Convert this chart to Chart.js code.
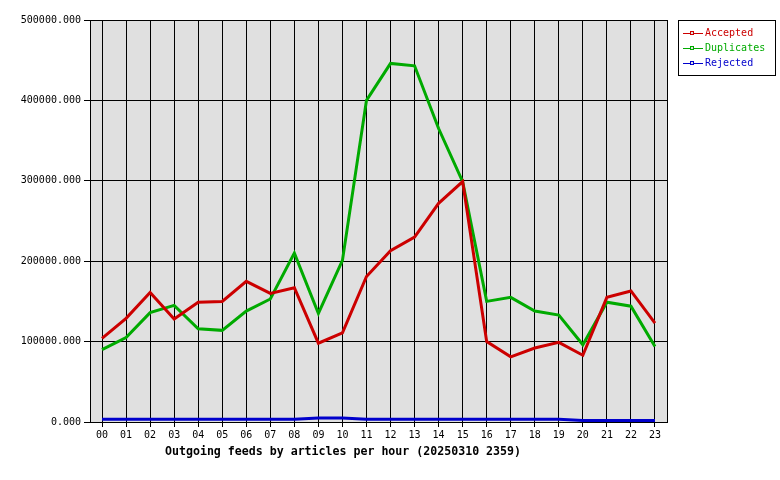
<!DOCTYPE html>
<html lang="en">
  <head>
    <meta charset="UTF-8" />
    <title>Outgoing feeds by articles per hour</title>
    <script src="https://cdn.jsdelivr.net/npm/chart.js"></script>
    <style>
      body { margin: 0; background: #fff; }
      #wrap { width: 780px; height: 480px; }
    </style>
  </head>
  <body>
    <div id="wrap"><canvas id="feeds" width="780" height="480"></canvas></div>

    <script>
      const hours = ["00","01","02","03","04","05","06","07","08","09","10","11",
                     "12","13","14","15","16","17","18","19","20","21","22","23"];

      // articles per hour
      const accepted = [104000, 129000, 161000, 128000, 149000, 150000, 175000, 160000,
                        167000, 98000, 111000, 181000, 213000, 230000, 272000, 299000,
                        100000, 81000, 92000, 99000, 83000, 155000, 163000, 123000];
      const duplicates = [90000, 105000, 136000, 145000, 116000, 114000, 138000, 153000,
                          210000, 135000, 201000, 400000, 446000, 443000, 365000, 299000,
                          150000, 155000, 138000, 133000, 96000, 149000, 144000, 94000];
      const rejected = [3500, 3500, 3500, 3500, 3500, 3500, 3500, 3500, 3500, 5000, 5000, 3500,
                        3500, 3500, 3500, 3500, 3500, 3500, 3500, 3500, 2000, 2000, 2000, 2000];

      const yTicks = [0, 100000, 200000, 300000, 400000, 500000];
      const title = "Outgoing feeds by articles per hour (20250310 2359)";

      const mono = "'DejaVu Sans Mono', 'Liberation Mono', monospace";

      const series = [
        { label: "Accepted", data: accepted, color: "#cc0000" },
        { label: "Duplicates", data: duplicates, color: "#00aa00" },
        { label: "Rejected", data: rejected, color: "#0000cc" },
      ];

      // grey plot area, black frame, legend box and bottom title
      const framePlugin = {
        id: "frame",
        beforeDraw(chart) {
          const { ctx, chartArea: a } = chart;
          ctx.save();
          ctx.fillStyle = "#ffffff";
          ctx.fillRect(0, 0, chart.width, chart.height);
          ctx.fillStyle = "#e0e0e0";
          ctx.fillRect(a.left, a.top, a.right - a.left, a.bottom - a.top);
          ctx.restore();
        },
        afterDraw(chart) {
          const { ctx, chartArea: a } = chart;
          ctx.save();
          ctx.strokeStyle = "#000";
          ctx.lineWidth = 1;
          ctx.strokeRect(Math.round(a.left) + 0.5, Math.round(a.top) + 0.5,
                         Math.round(a.right - a.left), Math.round(a.bottom - a.top));

          // legend
          ctx.strokeRect(678.5, 20.5, 97, 55);
          ctx.font = "10px " + mono;
          ctx.textBaseline = "middle";
          series.forEach((s, i) => {
            const y = 33 + i * 15 + 0.5;
            ctx.strokeStyle = s.color;
            ctx.beginPath();
            ctx.moveTo(683, y);
            ctx.lineTo(703, y);
            ctx.stroke();
            ctx.fillStyle = "#e0e0e0";
            ctx.fillRect(691, y - 2, 3, 3);
            ctx.strokeRect(690.5, y - 2, 3, 3);
            ctx.fillStyle = s.color;
            ctx.fillText(s.label, 705, y);
          });

          // title under the x axis
          ctx.fillStyle = "#000";
          ctx.font = "bold 11.6px " + mono;
          ctx.textAlign = "center";
          ctx.fillText(title, 343, 452);
          ctx.restore();
        },
      };

      const ctx = document.getElementById("feeds").getContext("2d");
      new Chart(ctx, {
        type: "line",
        data: {
          labels: hours,
          datasets: series.map((s) => ({
            label: s.label,
            data: s.data,
            borderColor: s.color,
            backgroundColor: s.color,
            borderWidth: 3,
            pointRadius: 0,
            tension: 0,
            fill: false,
          })),
        },
        options: {
          responsive: false,
          animation: false,
          layout: { padding: { top: 20, right: 113, left: 0, bottom: 0 } },
          plugins: {
            legend: { display: false },
            tooltip: { enabled: false },
          },
          scales: {
            x: {
              offset: true,
              grid: { color: "#000", lineWidth: 1, offset: false, tickLength: 5, tickColor: "#000" },
              border: { color: "#000" },
              ticks: {
                color: "#000",
                font: { family: mono, size: 10 },
                padding: 2,
                maxRotation: 0,
                autoSkip: false,
              },
              afterFit(scale) { scale.height = 58; },
            },
            y: {
              min: 0,
              max: 500000,
              afterBuildTicks(scale) { scale.ticks = yTicks.map((v) => ({ value: v })); },
              grid: { color: "#000", lineWidth: 1, tickLength: 6, tickColor: "#000" },
              border: { color: "#000" },
              ticks: {
                color: "#000",
                font: { family: mono, size: 10 },
                padding: 3,
                callback: (v) => Number(v).toFixed(3),
              },
              afterFit(scale) { scale.width = 90; },
            },
          },
        },
        plugins: [framePlugin],
      });
    </script>
  </body>
</html>
